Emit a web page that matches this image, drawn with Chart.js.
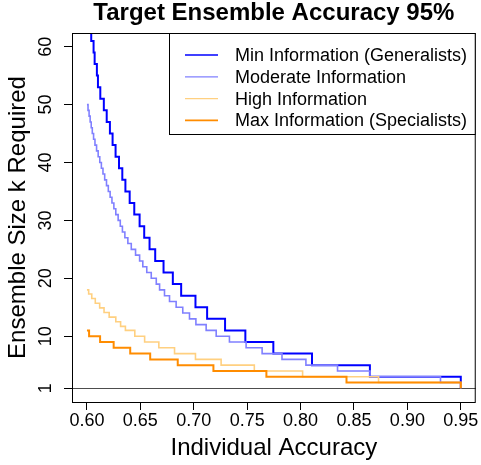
<!DOCTYPE html>
<html>
<head>
<meta charset="utf-8">
<script src="https://cdn.jsdelivr.net/npm/chart.js@4/dist/chart.umd.min.js"></script>
<style>
  html, body { margin: 0; padding: 0; background: #fff; }
  #plot { display: block; }
</style>
</head>
<body>
<canvas id="plot" width="481" height="465"></canvas>
<script>
// ── Data ──
const xTicks = [0.60, 0.65, 0.70, 0.75, 0.80, 0.85, 0.90, 0.95];
const yTicks = [1, 10, 20, 30, 40, 50, 60];
const seriesNames = ['Min Information (Generalists)', 'Moderate Information', 'High Information', 'Max Information (Specialists)'];
const baselineK = 1;

// each pair: accuracy where a level starts, and the ensemble size of that level
const minInfoAcc = [0.600, 0.6015, 0.604, 0.6062, 0.6072, 0.6093, 0.6103, 0.6125, 0.6158, 0.6185, 0.6215, 0.6240, 0.6268, 0.6300, 0.6331, 0.6360, 0.6400, 0.6443, 0.6493, 0.6536, 0.6586, 0.6639, 0.6717, 0.6804, 0.6882, 0.7016, 0.7125, 0.7293, 0.7483, 0.7745, 0.8107, 0.8649, 0.95];
const minInfoK   = [65, 63, 61, 59, 57, 55, 53, 51, 49, 47, 45, 43, 41, 39, 37, 35, 33, 31, 29, 27, 25, 23, 21, 19, 17, 15, 13, 11, 9, 7, 5, 3, 1];

const modInfoAcc = [0.600, 0.601, 0.602, 0.603, 0.604, 0.605, 0.6062, 0.6075, 0.609, 0.6105, 0.612, 0.6135, 0.615, 0.6166, 0.6183, 0.620, 0.6217, 0.6234, 0.6252, 0.627, 0.6292, 0.6312, 0.6332, 0.6355, 0.6383, 0.6415, 0.6455, 0.6493, 0.6523, 0.656, 0.6602, 0.6649, 0.668, 0.6726, 0.6773, 0.6835, 0.6897, 0.696, 0.702, 0.7116, 0.721, 0.7334, 0.749, 0.764, 0.7826, 0.805, 0.8346, 0.865, 0.931, 0.95];
const modInfoK   = [50, 49, 48, 47, 46, 45, 44, 43, 42, 41, 40, 39, 38, 37, 36, 35, 34, 33, 32, 31, 30, 29, 28, 27, 26, 25, 24, 23, 22, 21, 20, 19, 18, 17, 16, 15, 14, 13, 12, 11, 10, 9, 8, 7, 6, 5, 4, 3, 2, 1];

const highInfoAcc = [0.600, 0.6016, 0.6045, 0.6078, 0.6119, 0.616, 0.6208, 0.627, 0.6315, 0.636, 0.6448, 0.654, 0.6673, 0.682, 0.7016, 0.7256, 0.7567, 0.8019, 0.873, 0.95];
const highInfoK   = [18, 17.3, 16.5, 15.7, 14.9, 14.1, 13.3, 12.5, 11.7, 11, 10, 9, 8, 7, 6, 5, 4, 3, 2, 1];

const maxInfoAcc = [0.600, 0.602, 0.6123, 0.625, 0.6405, 0.6592, 0.685, 0.7184, 0.768, 0.843, 0.95];
const maxInfoK   = [11, 10, 9, 8, 7, 6, 5, 4, 3, 2, 1];

// ── Style ──
const FONT = "'Liberation Sans', Arial, Helvetica, sans-serif";
const seriesColors = ['#0000ff', '#8080ff', '#ffd080', '#ff8c00'];
const seriesWidths = [2, 1.6, 1.6, 2];

function toPoints(xs, ys) { return xs.map((x, i) => ({ x: x, y: ys[i] })); }

const datasets = [
  [minInfoAcc, minInfoK], [modInfoAcc, modInfoK], [highInfoAcc, highInfoK], [maxInfoAcc, maxInfoK]
].map(([xs, ys], i) => ({
  label: seriesNames[i],
  data: toPoints(xs, ys),
  borderColor: seriesColors[i],
  backgroundColor: seriesColors[i],
  borderWidth: seriesWidths[i],
  stepped: true,
  pointRadius: 0,
  fill: false,
  order: 4 - i
}));

// abline(h = 1) + box + legend, R style
const rDecor = {
  id: 'rDecor',
  beforeDatasetsDraw(chart) {
    const { ctx, chartArea: a, scales } = chart;
    const y = Math.round(scales.y.getPixelForValue(baselineK)) + 0.5;
    ctx.save();
    ctx.strokeStyle = '#4d4d4d'; ctx.lineWidth = 1;
    ctx.beginPath(); ctx.moveTo(a.left, y); ctx.lineTo(a.right, y); ctx.stroke();
    ctx.restore();
  },
  afterDatasetsDraw(chart) {
    const { ctx, chartArea: a } = chart;
    ctx.save();
    ctx.strokeStyle = '#000'; ctx.lineWidth = 1;
    ctx.strokeRect(a.left + 0.5, a.top + 0.5, a.right - a.left - 1, a.bottom - a.top);
    // legend box, top right inside the plot
    const lx = 169.5, ly = a.top + 0.5, lw = a.right - 0.5 - lx, lh = 101;
    ctx.fillStyle = '#fff';
    ctx.fillRect(lx, ly, lw, lh);
    ctx.strokeRect(lx, ly, lw, lh);
    ctx.font = '18px ' + FONT;
    ctx.textBaseline = 'middle';
    ctx.textAlign = 'left';
    chart.data.datasets.forEach((ds, i) => {
      const rowY = 55 + i * 21.8;
      ctx.strokeStyle = ds.borderColor;
      ctx.lineWidth = i % 3 === 0 ? 1.6 : 1.3;
      ctx.beginPath(); ctx.moveTo(185, rowY); ctx.lineTo(218, rowY); ctx.stroke();
      ctx.fillStyle = '#000';
      ctx.fillText(ds.label, 235, rowY + 1);
    });
    ctx.restore();
  }
};

new Chart(document.getElementById('plot'), {
  type: 'line',
  data: { datasets: datasets },
  plugins: [rDecor],
  options: {
    responsive: false,
    animation: false,
    events: [],
    layout: { padding: { top: 0, right: 4, bottom: 0, left: 0 } },
    plugins: {
      legend: { display: false },
      tooltip: { enabled: false },
      title: {
        display: true, fullSize: false,
        text: 'Target Ensemble Accuracy 95%',
        color: '#000',
        font: { family: FONT, size: 24, weight: 'bold', lineHeight: 1 },
        padding: { top: 1, bottom: 8 }
      }
    },
    scales: {
      x: {
        type: 'linear', min: 0.586, max: 0.964,
        afterBuildTicks: s => { s.ticks = xTicks.map(v => ({ value: v })); },
        afterFit: s => { s.height = 63; },
        border: { display: false },
        grid: { drawOnChartArea: false, drawTicks: true, tickLength: 8, tickColor: '#000', tickWidth: 1 },
        ticks: {
          autoSkip: false, maxRotation: 0, padding: 2.5, color: '#000',
          font: { family: FONT, size: 18, lineHeight: 1 },
          callback: v => v.toFixed(2)
        },
        title: {
          display: true, text: 'Individual Accuracy', color: '#000',
          font: { family: FONT, size: 24, lineHeight: 1 },
          padding: { top: 0, bottom: 5 }
        }
      },
      y: {
        type: 'linear', min: -1.36, max: 62.36,
        afterBuildTicks: s => { s.ticks = yTicks.map(v => ({ value: v })); },
        afterFit: s => { s.width = 72; },
        border: { display: false },
        grid: { drawOnChartArea: false, drawTicks: true, tickLength: 8, tickColor: '#000', tickWidth: 1 },
        ticks: {
          autoSkip: false, minRotation: 90, maxRotation: 90, crossAlign: 'center',
          padding: 7.5, color: '#000',
          font: { family: FONT, size: 18, lineHeight: 1 },
          callback: v => String(v)
        },
        title: {
          display: true, text: 'Ensemble Size k Required', color: '#000',
          font: { family: FONT, size: 24, lineHeight: 1 },
          padding: { top: 6, bottom: 0 }
        }
      }
    }
  }
});
</script>
</body>
</html>
